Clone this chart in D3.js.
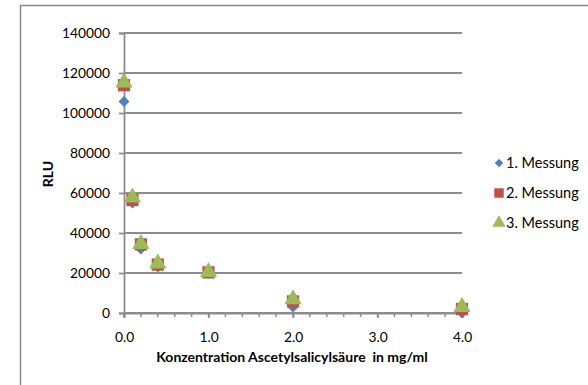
<!DOCTYPE html>
<html><head><meta charset="utf-8">
<script src="https://cdn.jsdelivr.net/npm/d3@7"></script>
<style>body{margin:0;background:#fff}svg{display:block}text{font-family:Lato,"Open Sans",sans-serif}</style>
</head><body><svg id="c" width="588" height="385"></svg>
<script>
const xValues = [0, 0.1, 0.2, 0.4, 1.0, 2.0, 4.0];
const series1 = [105700, 55000, 32000, 23000, 20000, 3000, 0];
const series2 = [113900, 56500, 34300, 24200, 20300, 5800, 2000];
const series3 = [115200, 57800, 34500, 24800, 20500, 6900, 3000];
const seriesNames = ["1. Messung", "2. Messung", "3. Messung"];
const yTicks = [0, 20000, 40000, 60000, 80000, 100000, 120000, 140000];
const xTicks = [0, 1, 2, 3, 4];

const svg = d3.select("#c");
const colors = ["#4F81BD", "#C0504D", "#9BBB59"];
const shapes = [d3.symbolSquare, d3.symbolSquare, d3.symbolTriangle];
const rot = [45, 0, 0];
const sizes = [60, 150, 130];

svg.append("rect").attr("x", 20.5).attr("y", 5.5).attr("width", 620).attr("height", 420)
  .attr("fill", "#fff").attr("stroke", "#8a8a8a").attr("stroke-width", 1.5);

const x = d3.scaleLinear().domain([0, 4]).range([124, 462]);
const y = d3.scaleLinear().domain([0, 140000]).range([313, 33]);

const g = svg.append("g");
g.selectAll("line.grid").data(yTicks).join("line")
  .attr("x1", x(0)).attr("x2", x(4)).attr("y1", d => y(d)).attr("y2", d => y(d))
  .attr("stroke", "#8c8c8c").attr("stroke-width", 1.8);

const yAxis = d3.axisLeft(y).tickValues(yTicks).tickSize(5).tickPadding(9).tickFormat(d3.format("d"));
const ya = svg.append("g").attr("transform", `translate(${x(0)},0)`).call(yAxis);
ya.select(".domain").attr("stroke", "#8c8c8c").attr("stroke-width", 1.8);
ya.selectAll(".tick line").attr("stroke", "#8c8c8c").attr("stroke-width", 1.8);
ya.selectAll(".tick text").attr("font-size", 13.8).attr("fill", "#000").attr("font-family", "Lato, sans-serif");

const minor = d3.range(0, 4.01, 0.2);
svg.append("g").selectAll("line").data(minor).join("line")
  .attr("x1", d => x(d)).attr("x2", d => x(d)).attr("y1", y(0)).attr("y2", y(0) + 4)
  .attr("stroke", "#8c8c8c").attr("stroke-width", 1.5);
const xAxis = d3.axisBottom(x).tickValues(xTicks).tickSize(5).tickPadding(14).tickFormat(d3.format(".1f"));
const xa = svg.append("g").attr("transform", `translate(0,${y(0)})`).call(xAxis);
xa.select(".domain").attr("stroke", "#8c8c8c").attr("stroke-width", 1.8);
xa.selectAll(".tick line").attr("stroke", "#8c8c8c").attr("stroke-width", 1.8);
xa.selectAll(".tick text").attr("font-size", 13.8).attr("fill", "#000").attr("font-family", "Lato, sans-serif");

svg.append("text").attr("x", 292).attr("y", 362).attr("text-anchor", "middle")
  .attr("font-size", 14).attr("font-weight", "bold").text("Konzentration Ascetylsalicylsäure\u00a0 in mg/ml");
svg.append("text").attr("transform", "translate(53,174) rotate(-90)").attr("text-anchor", "middle")
  .attr("font-size", 14).attr("font-weight", "bold").text("RLU");

const allSeries = [series1, series2, series3];
allSeries.forEach((s, i) => {
  svg.append("g").selectAll("path").data(s.map((v, j) => [xValues[j], v])).join("path")
    .attr("transform", d => `translate(${x(d[0])},${y(d[1])}) rotate(${rot[i]})`)
    .attr("d", d3.symbol().type(shapes[i]).size(sizes[i]))
    .attr("fill", colors[i]);
});

const lg = svg.append("g");
seriesNames.forEach((n, i) => {
  const yy = 163 + i * 30;
  lg.append("path").attr("transform", `translate(499,${yy}) rotate(${rot[i]})`)
    .attr("d", d3.symbol().type(shapes[i]).size(sizes[i] * 0.6)).attr("fill", colors[i]);
  lg.append("text").attr("x", 506).attr("y", yy + 5).attr("font-size", 14.5).text(n);
});
</script></body></html>
